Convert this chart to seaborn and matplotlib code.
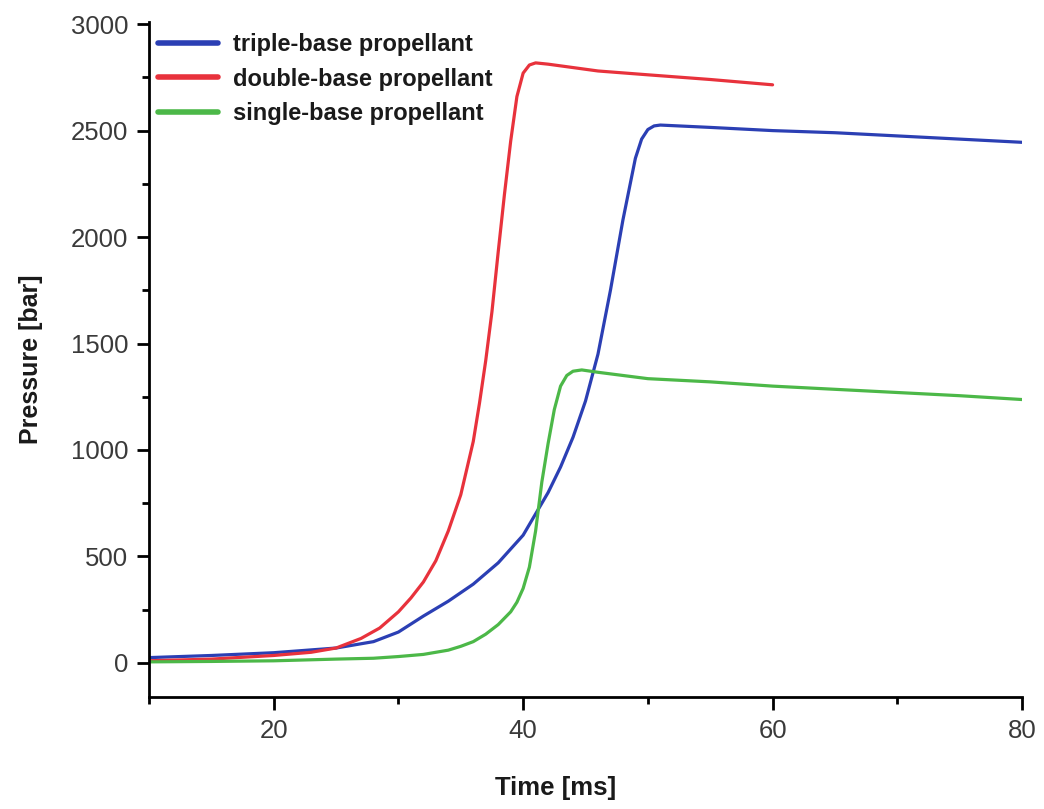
import numpy as np
import pandas as pd
import matplotlib
matplotlib.use("Agg")
import matplotlib.pyplot as plt
import seaborn as sns
from matplotlib.ticker import MultipleLocator

# ---- data ----
triple_t = [10, 15, 20, 25, 28, 30, 32, 34, 36, 38, 40, 41, 42, 43, 44, 45, 46, 47, 48, 49, 49.5, 50, 50.5, 51, 55, 60, 65, 70, 75, 80]
triple_p = [25, 35, 48, 70, 100, 145, 220, 290, 370, 470, 600, 700, 800, 920, 1060, 1230, 1450, 1750, 2080, 2370, 2460, 2505, 2522, 2526, 2515, 2500, 2490, 2475, 2460, 2445]

double_t = [10, 15, 20, 23, 25, 27, 28.5, 30, 31, 32, 33, 34, 35, 36, 36.5, 37, 37.5, 38, 38.5, 39, 39.5, 40, 40.5, 41, 42, 44, 46, 50, 55, 60]
double_p = [10, 18, 35, 50, 70, 115, 164, 240, 305, 380, 480, 620, 790, 1040, 1220, 1420, 1650, 1930, 2200, 2450, 2660, 2770, 2808, 2818, 2812, 2796, 2780, 2762, 2740, 2715]

single_t = [10, 15, 20, 25, 28, 30, 32, 34, 35, 36, 37, 38, 39, 39.5, 40, 40.5, 41, 41.5, 42, 42.5, 43, 43.5, 44, 44.7, 46, 50, 55, 60, 65, 70, 75, 80]
single_p = [5, 7, 10, 18, 22, 30, 40, 60, 78, 100, 135, 180, 240, 285, 350, 450, 620, 850, 1030, 1190, 1300, 1350, 1370, 1376, 1365, 1335, 1320, 1300, 1285, 1270, 1255, 1237]

labels = ["triple-base propellant", "double-base propellant", "single-base propellant"]
colors = ["#2b3fb4", "#e8323c", "#4cb848"]

sns.set_style("ticks")
plt.rcParams["font.family"] = ["Liberation Sans", "DejaVu Sans"]

fig = plt.figure(figsize=(10.44, 8.09), dpi=100)
ax = fig.add_axes([149 / 1044, 1 - 697 / 809, 873 / 1044, 675 / 809])

series = [(triple_t, triple_p), (double_t, double_p), (single_t, single_p)]
for (t, p), lab, c in zip(series, labels, colors):
    df = pd.DataFrame({"t": t, "p": p})
    sns.lineplot(data=df, x="t", y="p", ax=ax, color=c, lw=2.3, label=lab,
                 estimator=None, sort=False)

ax.set_xlim(10, 80)
ax.set_ylim(-160, 3010)
ax.xaxis.set_major_locator(MultipleLocator(20))
ax.xaxis.set_minor_locator(MultipleLocator(10))
ax.yaxis.set_major_locator(MultipleLocator(500))
ax.yaxis.set_minor_locator(MultipleLocator(250))

for s in ["top", "right"]:
    ax.spines[s].set_visible(False)
for s in ["left", "bottom"]:
    ax.spines[s].set_linewidth(2)
    ax.spines[s].set_color("black")

ax.tick_params(axis="both", which="major", direction="out", length=9, width=2,
               labelsize=18.5, labelcolor="#3a3a3a", color="black")
ax.tick_params(axis="x", which="major", pad=7)
ax.tick_params(axis="y", which="major", pad=6)
ax.tick_params(axis="both", which="minor", direction="out", length=5, width=2, color="black")

ax.set_xlabel("Time [ms]", fontsize=18.5, fontweight="bold", color="#1a1a1a")
ax.set_ylabel("Pressure [bar]", fontsize=18, fontweight="bold", color="#1a1a1a")
ax.xaxis.set_label_coords(0.466, -0.117)
ax.yaxis.set_label_coords(-0.121, 0.5)

leg = ax.legend(loc="upper left", bbox_to_anchor=(0.0103, 0.984), frameon=False,
                fontsize=17, handlelength=2.55, handletextpad=0.64, labelspacing=0.5,
                borderaxespad=0, borderpad=0)
for txt in leg.get_texts():
    txt.set_fontweight("bold")
    txt.set_color("#1a1a1a")
for h in leg.get_lines():
    h.set_linewidth(4)

fig.savefig("out.png", dpi=100)
